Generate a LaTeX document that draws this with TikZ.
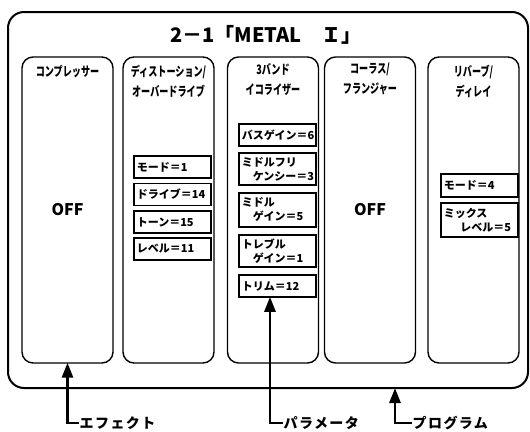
\documentclass[tikz,border=0pt]{standalone}
\usepackage{fontspec}
\newfontfamily\jp{Noto Sans CJK JP}
\newfontfamily\jpn[FakeStretch=0.7]{Noto Sans CJK JP}
\newfontfamily\jpl[LetterSpace=10]{Noto Sans CJK JP}
\usetikzlibrary{arrows.meta,positioning}
\tikzset{
  >={Triangle[length=15pt,width=11pt]},
  every picture/.style={line width=1.4pt},
  prog/.style={draw,rounded corners=16pt,line width=2pt,inner sep=0pt},
  col/.style={draw,rounded corners=11pt,minimum width=91pt,minimum height=306pt,inner sep=0pt},
  hd/.style={font=\jpn\bfseries\fontsize{13}{20}\selectfont,align=center,inner sep=0pt},
  offtxt/.style={font=\jp\bfseries\fontsize{16}{16}\selectfont,inner sep=0pt},
  prm/.style={draw,line width=1.6pt,anchor=west,text width=71pt,inner xsep=3pt,inner ysep=2pt,align=left,
    font=\jp\bfseries\fontsize{11}{14}\selectfont},
  lab/.style={anchor=west,inner sep=0pt,font=\jpl\bfseries\fontsize{14}{14}\selectfont},
  arr/.style={->,line width=2.8pt,shorten >=-1pt},
}
\begin{document}
\begin{tikzpicture}[x=1pt,y=-1pt]
  \useasboundingbox[fill=white] (0,0) rectangle (530,431);
  \node[prog,minimum width=520pt,minimum height=376pt] (pg) at (268,200) {};
  \node[font=\jp\bfseries\fontsize{20}{20}\selectfont] (tt) at (266,35) {2－1「METAL　Ｉ」};
  \foreach \i/\x in {1/67.5,2/168.5,3/273,4/370,5/473.5}
    \node[col] (c\i) at (\x,210) {};
  \node[hd,below=8pt of c1.north] (h1) {コンプレッサー};
  \node[hd,below=8pt of c2.north] (h2) {ディストーション/\\オーバードライブ};
  \node[hd,below=6pt of c3.north] (h3) {3バンド\\イコライザー};
  \node[hd,below=6pt of c4.north] (h4) {コーラス/\\フランジャー};
  \node[hd,below=8pt of c5.north] (h5) {リバーブ/\\ディレイ};
  \node[offtxt] (o1) at (c1) {OFF};
  \node[offtxt] (o4) at (c4) {OFF};
  \foreach \n/\y/\t in {a/167/モード＝1,b/194.5/ドライブ＝14,c/222/トーン＝15,d/249/レベル＝11}
    \node[prm,minimum height=22pt] (p2\n) at (133,\y) {\t};
  \foreach \n/\y/\h/\t in {a/135/22/{バスゲイン＝6},b/169/32/{ミドルフリ\\\hspace*{1em}ケンシー＝3},
      c/210/34/{ミドル\\\hspace*{1em}ゲイン＝5},d/251/32/{トレブル\\\hspace*{1em}ゲイン＝1},e/286/22/{トリム＝12}}
    \node[prm,minimum height=\h pt] (p3\n) at (238,\y) {\t};
  \foreach \n/\y/\h/\t in {a/185.5/23/{モード＝4},b/220/34/{ミックス\\\hspace*{1.5em}レベル＝5}}
    \node[prm,minimum height=\h pt] (p5\n) at (440,\y) {\t};
  \node[lab] (l1) at (79,423) {エフェクト};
  \node[lab] (l2) at (283,423) {パラメータ};
  \node[lab] (l3) at (412,423) {プログラム};
  \draw[arr] (l1.west) -- ++(-2,0) -| (c1.south);
  \draw[arr] (l2.west) -- ++(-13,0) coordinate (k2) -- (k2 |- p3e.south);
  \draw[arr] (l3.west) -- ++(-17,0) coordinate (k3) -- (k3 |- pg.south);
\end{tikzpicture}
\end{document}
